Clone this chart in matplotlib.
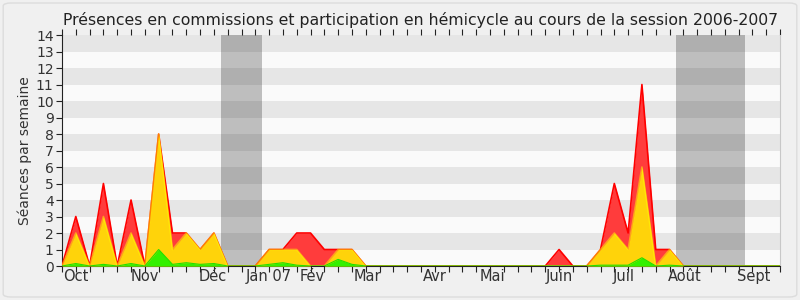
import numpy as np
import matplotlib.pyplot as plt
from matplotlib.patches import FancyBboxPatch

# weekly values, session 2006-2007 (week 0 = start of October)
weeks = np.arange(53)
hemicycle = [0, 3, 0, 5, 0, 4, 0, 8, 2, 2, 1, 2, 0, 0, 0, 1, 1, 2, 2, 1,
             1, 1, 0, 0, 0, 0, 0, 0, 0, 0, 0, 0, 0, 0, 0, 0, 1, 0, 0, 1,
             5, 2, 11, 1, 1, 0, 0, 0, 0, 0, 0, 0, 0]
commission = [0, 2, 0, 3, 0, 2, 0, 8, 1, 2, 1, 2, 0, 0, 0, 1, 1, 1, 0, 0,
              1, 1, 0, 0, 0, 0, 0, 0, 0, 0, 0, 0, 0, 0, 0, 0, 0, 0, 0, 1,
              2, 1, 6, 0, 1, 0, 0, 0, 0, 0, 0, 0, 0]
interventions = [0, 0.15, 0, 0.1, 0, 0.15, 0, 1, 0.1, 0.2, 0.1, 0.15, 0, 0, 0, 0.1,
                 0.2, 0.05, 0, 0, 0.4, 0.1, 0, 0, 0, 0, 0, 0, 0, 0, 0, 0,
                 0, 0, 0, 0, 0, 0, 0, 0.05, 0.05, 0.05, 0.5, 0, 0.05, 0, 0, 0,
                 0, 0, 0, 0, 0]
vacances = [(11.5, 14.5), (44.5, 49.5)]
mois = ['Oct', 'Nov', 'Déc', 'Jan 07', 'Fév', 'Mar', 'Avr', 'Mai', 'Juin', 'Juil', 'Août', 'Sept']
mois_pos = [1, 6, 10.9, 15, 18.1, 22.1, 27, 31.2, 36, 40.7, 45.1, 50.1]

fig = plt.figure(figsize=(8, 3), dpi=100, facecolor='#f0f0f0')
fig.patches.append(FancyBboxPatch((0.004, 0.01), 0.992, 0.98, boxstyle='round,pad=0,rounding_size=0.01',
                                  transform=fig.transFigure, facecolor='none', edgecolor='#dcdcdc', lw=1))
ax = fig.add_axes([0.0775, 0.1133, 0.8975, 0.77])
ax.set_facecolor('#fafafa')

# horizontal stripes
for k in range(1, 14, 2):
    ax.axhspan(k, k + 1, color='#e6e6e6', lw=0, zorder=0)
for a, b in vacances:
    ax.axvspan(a, b, color='black', alpha=0.24, lw=0, zorder=1)

ax.fill_between(weeks, hemicycle, color='#ff3c3c', lw=0, zorder=2)
ax.plot(weeks, hemicycle, color='#ff0000', lw=1.2, zorder=3)
ax.fill_between(weeks, commission, color='#ffd30a', lw=0, zorder=4)
ax.plot(weeks, commission, color='#ffff00', alpha=0.5, lw=1.2, zorder=5)
ax.fill_between(weeks, interventions, color='#33f000', lw=0, zorder=6)
ax.plot(weeks, interventions, color='#22e000', lw=0.8, zorder=7)

ax.set_xlim(0, 52)
ax.set_ylim(0, 14)
ax.set_yticks(range(15))
ax.xaxis.remove_overlapping_locs = False
ax.set_xticks(weeks)
ax.set_xticklabels([])
ax.set_xticks(mois_pos, minor=True)
ax.set_xticklabels(mois, minor=True)
ax.tick_params(axis='x', which='major', length=4, direction='out', color='#222222', top=True)
ax.tick_params(axis='x', which='minor', length=0, labelsize=10.5, labelcolor='#333333', pad=2)
ax.tick_params(axis='y', length=4, direction='out', labelsize=10, labelcolor='#333333', color='#222222', pad=2)

ax.spines['top'].set_visible(False)
ax.spines['right'].set_color('#c8c8c8')
ax.spines['left'].set_color('#222222')
ax.spines['bottom'].set_color('#222222')

ax.set_ylabel('Séances par semaine', fontsize=10, color='#333333', labelpad=3)
ax.set_title('Présences en commissions et participation en hémicycle au cours de la session 2006-2007',
             fontsize=11.3, color='#222222', pad=7)

fig.savefig('out.png', dpi=100, facecolor=fig.get_facecolor())
